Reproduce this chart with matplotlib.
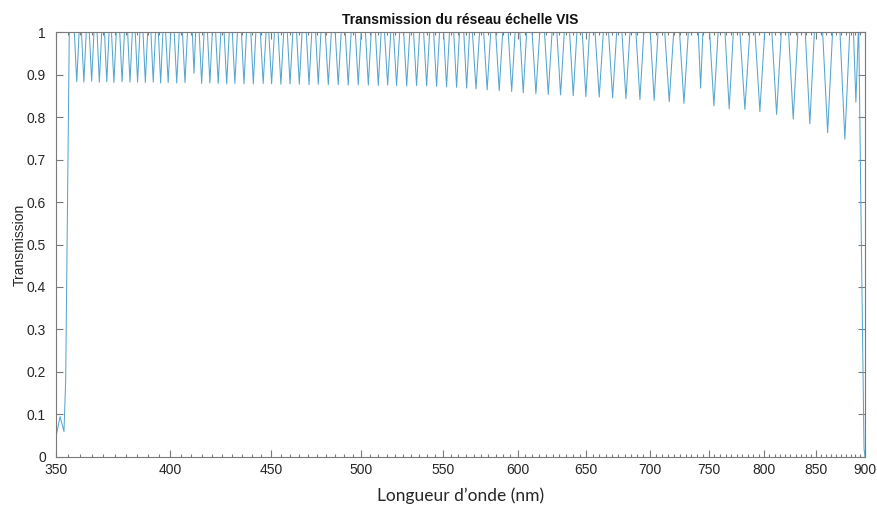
import matplotlib
matplotlib.use("Agg")
import matplotlib.pyplot as plt
from matplotlib.ticker import FixedLocator, NullFormatter, FixedFormatter

# rising edge at the blue end (nm, transmission)
start_nm = [350.0, 351.8, 353.4, 354.1, 355.6]
start_T = [0.044, 0.095, 0.060, 0.18, 1.0]

# minima between orders: centre, depth, full width at the top
dip_nm = [358.7, 361.7, 365.0, 368.3, 371.5, 374.6, 378.2, 381.7, 385.1, 388.6,
          392.2, 395.6, 399.1, 403.1, 407.0, 411.3, 415.0, 419.0, 423.1, 427.3,
          431.4, 436.0, 440.8, 445.9, 450.3, 455.2, 460.1, 465.1, 470.4, 475.5,
          481.1, 486.7, 492.4, 498.2, 504.1, 510.0, 515.6, 521.0, 527.2, 533.3,
          539.6, 545.9, 552.3, 558.8, 565.4, 571.6, 579.1, 587.3, 595.9, 604.0,
          613.0, 621.9, 630.9, 640.3, 649.8, 660.0, 670.4, 680.9, 692.1, 703.7,
          716.2, 728.6, 742.9, 754.5, 768.1, 782.3, 796.1, 811.8, 827.7, 843.9,
          861.6, 879.1, 890.5]
dip_T = [0.883, 0.882, 0.884, 0.882, 0.883, 0.881, 0.883, 0.882, 0.882, 0.881,
         0.882, 0.880, 0.881, 0.880, 0.881, 0.903, 0.879, 0.880, 0.879, 0.878,
         0.879, 0.878, 0.878, 0.879, 0.878, 0.877, 0.878, 0.877, 0.876, 0.877,
         0.876, 0.876, 0.875, 0.876, 0.875, 0.874, 0.875, 0.874, 0.873, 0.874,
         0.873, 0.872, 0.871, 0.870, 0.868, 0.866, 0.864, 0.862, 0.860, 0.857,
         0.855, 0.853, 0.852, 0.850, 0.848, 0.847, 0.845, 0.843, 0.841, 0.839,
         0.836, 0.832, 0.868, 0.826, 0.819, 0.818, 0.813, 0.806, 0.795, 0.784,
         0.763, 0.748, 0.835]
dip_fw = [2.0, 2.0, 2.0, 2.0, 2.0, 2.1, 2.1, 2.1, 2.1, 2.1,
          2.1, 2.1, 2.4, 2.4, 2.4, 1.6, 2.4, 2.4, 2.6, 2.6,
          2.6, 2.6, 2.6, 3.0, 3.0, 3.0, 3.0, 3.0, 3.0, 3.0,
          3.4, 3.4, 3.4, 3.4, 3.4, 3.4, 3.8, 3.8, 3.8, 3.8,
          3.8, 3.8, 3.8, 3.8, 3.8, 4.8, 4.8, 4.8, 4.8, 4.8,
          5.5, 5.5, 5.5, 5.5, 5.5, 6.4, 6.4, 6.4, 6.4, 6.4,
          7.5, 7.5, 4.0, 7.5, 7.5, 9.0, 9.0, 9.0, 9.0, 9.0,
          10.0, 10.0, 5.0]

# falling edge at the red end
end_nm = [893.5, 896.5, 899.0, 900.0]
end_T = [1.0, 0.45, 0.02, 0.0]

xticks = list(range(350, 901, 50))
yticks = [0, 0.1, 0.2, 0.3, 0.4, 0.5, 0.6, 0.7, 0.8, 0.9, 1]
ylabels = ["0", "0.1", "0.2", "0.3", "0.4", "0.5", "0.6", "0.7", "0.8", "0.9", "1"]

# build the curve: edge, each dip as a V hanging from T=1, then edge
wl = list(start_nm)
T = list(start_T)
for c, d, w in zip(dip_nm, dip_T, dip_fw):
    wl += [c - w / 2, c, c + w / 2]
    T += [1.0, d, 1.0]
wl += end_nm
T += end_T

plt.rcParams['font.family'] = ['Liberation Sans', 'DejaVu Sans']

fig = plt.figure(figsize=(8.77, 5.08), dpi=100)
ax = fig.add_axes([0.0635, 0.1004, 0.9228, 0.8366])

ax.plot(wl, T, color='#55a6d0', lw=0.75)

ax.set_xscale('log')
ax.set_xlim(350, 900)
ax.set_ylim(0, 1)
ax.xaxis.set_major_locator(FixedLocator(xticks))
ax.xaxis.set_major_formatter(FixedFormatter([str(v) for v in xticks]))
ax.xaxis.set_minor_locator(FixedLocator(list(range(350, 901, 5))))
ax.xaxis.set_minor_formatter(NullFormatter())
ax.yaxis.set_major_locator(FixedLocator(yticks))
ax.yaxis.set_major_formatter(FixedFormatter(ylabels))
ax.yaxis.set_minor_locator(FixedLocator([]))

ax.tick_params(which='both', direction='in', top=True, right=True,
               colors='#7a7a7a', labelcolor='#262626', labelsize=10, width=0.8)
ax.tick_params(which='major', length=5)
ax.tick_params(which='minor', length=2.5)
ax.tick_params(axis='x', pad=4)
ax.tick_params(axis='y', pad=7)
for s in ax.spines.values():
    s.set_color('#7a7a7a')
    s.set_linewidth(0.8)

ax.set_title("Transmission du réseau échelle VIS", fontsize=10, fontweight='bold',
             color='#111111', pad=6)
ax.set_xlabel("Longueur d’onde (nm)", fontsize=12.5, family=['Lato', 'DejaVu Sans'],
              color='#262626', labelpad=8)
ax.set_ylabel("Transmission", fontsize=10, color='#262626', labelpad=0)

fig.savefig("out.png", dpi=100)
